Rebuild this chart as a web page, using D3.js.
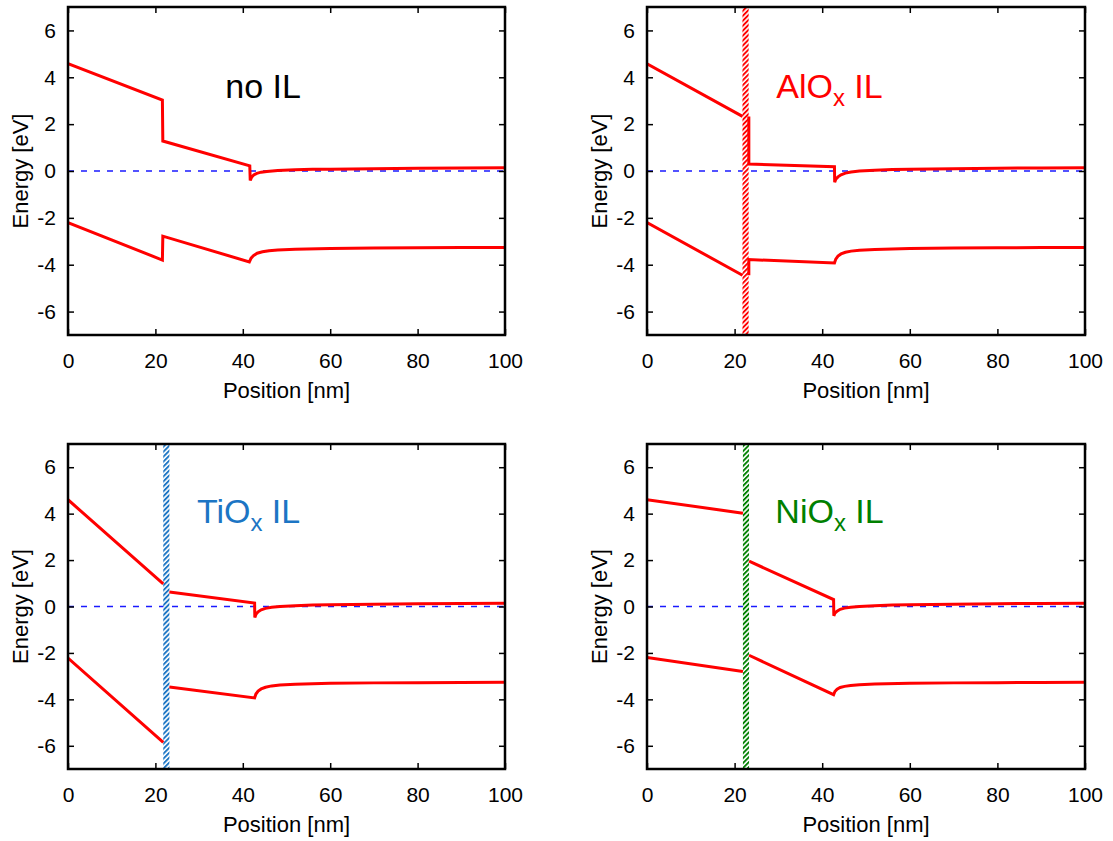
<!DOCTYPE html>
<html>
<head>
<meta charset="utf-8">
<script src="https://cdn.jsdelivr.net/npm/d3@7"></script>
<style>
  html, body { margin: 0; padding: 0; background: #fff; }
  svg { display: block; font-family: "Liberation Sans", Arial, sans-serif; }
</style>
</head>
<body>
<svg id="chart" width="1113" height="841"></svg>
<script>
// ---------- data (position nm, energy eV); null = break at the interlayer ----------
const xTicks = [0, 20, 40, 60, 80, 100];
const yTicks = [-6, -4, -2, 0, 2, 4, 6];
const xDomain = [0, 100];
const yDomain = [-7, 7];

const noIL_CB = [[0,4.58],[21.6,3.03],[21.7,1.28],[41.6,0.22],[41.7,-0.4],[42.0,-0.27],[42.5,-0.17],[43.2,-0.1],[44.2,-0.05],[45.5,-0.02],[48,0.02],[52,0.05],[56,0.07],[60,0.08],[70,0.1],[80,0.12],[90,0.13],[100,0.14]];
const noIL_VB = [[0,-2.2],[21.6,-3.8],[21.7,-2.78],[41.5,-3.88],[41.9,-3.72],[42.5,-3.6],[43.3,-3.51],[44.5,-3.45],[46,-3.4],[48,-3.37],[52,-3.34],[60,-3.31],[70,-3.29],[80,-3.28],[90,-3.27],[100,-3.26]];

const AlOx_CB = [[0,4.58],[21.8,2.33],null,[23.25,2.33],[23.25,0.3],[42.8,0.18],[42.85,-0.48],[43.1,-0.35],[43.6,-0.25],[44.3,-0.16],[45.3,-0.09],[46.6,-0.04],[48.5,0.0],[52,0.03],[56,0.06],[60,0.08],[70,0.1],[80,0.12],[90,0.13],[100,0.14]];
const AlOx_VB = [[0,-2.2],[21.8,-4.45],null,[23.25,-4.45],[23.25,-3.78],[42.8,-3.93],[43.1,-3.76],[43.6,-3.63],[44.3,-3.54],[45.3,-3.47],[46.6,-3.42],[48.5,-3.38],[52,-3.35],[60,-3.31],[70,-3.29],[80,-3.28],[90,-3.27],[100,-3.26]];

const TiOx_CB = [[0,4.6],[21.8,0.97],null,[23.2,0.62],[42.7,0.15],[42.75,-0.47],[43.0,-0.34],[43.5,-0.23],[44.2,-0.14],[45.2,-0.08],[46.6,-0.03],[48.5,0.0],[52,0.03],[56,0.06],[60,0.08],[70,0.1],[80,0.12],[90,0.13],[100,0.14]];
const TiOx_VB = [[0,-2.22],[21.8,-5.85],null,[23.2,-3.47],[42.7,-3.94],[43.0,-3.77],[43.5,-3.64],[44.2,-3.55],[45.2,-3.48],[46.6,-3.42],[48.5,-3.38],[52,-3.35],[60,-3.31],[70,-3.29],[80,-3.28],[90,-3.27],[100,-3.26]];

const NiOx_CB = [[0,4.6],[21.9,4.02],null,[23.3,1.95],[42.6,0.3],[42.65,-0.4],[42.9,-0.29],[43.4,-0.2],[44.1,-0.12],[45.1,-0.07],[46.5,-0.03],[48.5,0.0],[52,0.03],[56,0.06],[60,0.08],[70,0.1],[80,0.12],[90,0.13],[100,0.14]];
const NiOx_VB = [[0,-2.2],[21.9,-2.8],null,[23.3,-2.1],[42.6,-3.8],[42.9,-3.66],[43.4,-3.56],[44.1,-3.49],[45.1,-3.44],[46.5,-3.4],[48.5,-3.37],[52,-3.34],[60,-3.31],[70,-3.29],[80,-3.28],[90,-3.27],[100,-3.26]];

const labelMain = ["no IL", "AlO", "TiO", "NiO"];
const labelPos = [[36, 3.1], [29.5, 3.1], [29.5, 3.58], [29.3, 3.58]];
const ilSpan = [null, [21.8, 23.2], [21.8, 23.2], [21.9, 23.3]];

// ---------- layout / style ----------
const panels = [
  { left: 68,  right: 505,  top: 7,   bottom: 335, cb: noIL_CB, vb: noIL_VB, color: "#000000" },
  { left: 647, right: 1085, top: 7,   bottom: 335, cb: AlOx_CB, vb: AlOx_VB, color: "#ff0000" },
  { left: 68,  right: 505,  top: 444, bottom: 769, cb: TiOx_CB, vb: TiOx_VB, color: "#1c75c4" },
  { left: 647, right: 1085, top: 444, bottom: 769, cb: NiOx_CB, vb: NiOx_VB, color: "#008000" }
];

const svg = d3.select("#chart");
svg.append("rect").attr("width", 1113).attr("height", 841).attr("fill", "#fff");
const defs = svg.append("defs");
const fmt = d => String(d);

panels.forEach((p, i) => {
  const x = d3.scaleLinear().domain(xDomain).range([p.left, p.right]);
  const y = d3.scaleLinear().domain(yDomain).range([p.bottom, p.top]);
  const g = svg.append("g");

  const clipId = "clip" + i;
  defs.append("clipPath").attr("id", clipId)
    .append("rect").attr("x", p.left).attr("y", p.top)
    .attr("width", p.right - p.left).attr("height", p.bottom - p.top);

  g.append("line")
    .attr("x1", x(0)).attr("x2", x(100)).attr("y1", y(0)).attr("y2", y(0))
    .attr("stroke", "#1a1aff").attr("stroke-width", 1.5)
    .attr("stroke-dasharray", "6,7");

  // interlayer bar (drawn beneath the band lines)
  if (ilSpan[i]) {
    const pid = "hatch" + i;
    const pat = defs.append("pattern").attr("id", pid)
      .attr("patternUnits", "userSpaceOnUse").attr("width", 3.5).attr("height", 3.5)
      .attr("patternTransform", "rotate(45)");
    pat.append("rect").attr("width", 3.5).attr("height", 3.5).attr("fill", "#fff");
    pat.append("rect").attr("width", 1.9).attr("height", 3.5).attr("fill", p.color);
    g.append("rect")
      .attr("x", x(ilSpan[i][0])).attr("y", p.top + 1)
      .attr("width", x(ilSpan[i][1]) - x(ilSpan[i][0]))
      .attr("height", p.bottom - p.top - 2)
      .attr("fill", `url(#${pid})`);
  }

  const line = d3.line().defined(d => d !== null).x(d => x(d[0])).y(d => y(d[1]));
  const lg = g.append("g").attr("clip-path", `url(#${clipId})`);
  [p.cb, p.vb].forEach(arr => {
    lg.append("path").attr("d", line(arr))
      .attr("fill", "none").attr("stroke", "#ff0000")
      .attr("stroke-width", 3).attr("stroke-linejoin", "miter");
  });

  const tl = 6;
  const axB = d3.axisBottom(x).tickValues(xTicks).tickSize(-tl).tickPadding(18).tickFormat(fmt);
  const axT = d3.axisTop(x).tickValues(xTicks).tickSize(-tl).tickFormat("");
  const axL = d3.axisLeft(y).tickValues(yTicks).tickSize(-tl).tickPadding(12).tickFormat(fmt);
  const axR = d3.axisRight(y).tickValues(yTicks).tickSize(-tl).tickFormat("");
  const style = a => {
    a.select(".domain").remove();
    a.selectAll(".tick line").attr("stroke", "#000").attr("stroke-width", 1.5);
    a.selectAll("text").attr("font-size", 21).attr("fill", "#000")
      .attr("font-family", "Liberation Sans, Arial, sans-serif");
  };
  g.append("g").attr("transform", `translate(0,${p.bottom})`).call(axB).call(style);
  g.append("g").attr("transform", `translate(0,${p.top})`).call(axT).call(style);
  g.append("g").attr("transform", `translate(${p.left},0)`).call(axL).call(style);
  g.append("g").attr("transform", `translate(${p.right},0)`).call(axR).call(style);

  g.append("rect").attr("x", p.left).attr("y", p.top)
    .attr("width", p.right - p.left).attr("height", p.bottom - p.top)
    .attr("fill", "none").attr("stroke", "#000").attr("stroke-width", 2.5);

  g.append("text").attr("x", (p.left + p.right) / 2).attr("y", p.bottom + 63)
    .attr("text-anchor", "middle").attr("font-size", 22).text("Position [nm]");
  g.append("text")
    .attr("transform", `translate(${p.left - 40},${(p.top + p.bottom) / 2}) rotate(-90)`)
    .attr("text-anchor", "middle").attr("font-size", 22).text("Energy [eV]");

  const t = g.append("text").attr("x", x(labelPos[i][0])).attr("y", y(labelPos[i][1]))
    .attr("font-size", 34).attr("fill", p.color);
  if (i === 0) {
    t.text(labelMain[i]);
  } else {
    t.append("tspan").text(labelMain[i]);
    t.append("tspan").attr("font-size", 24).attr("dy", 8).text("x");
    t.append("tspan").attr("dy", -8).text(" IL");
  }
});
</script>
</body>
</html>
